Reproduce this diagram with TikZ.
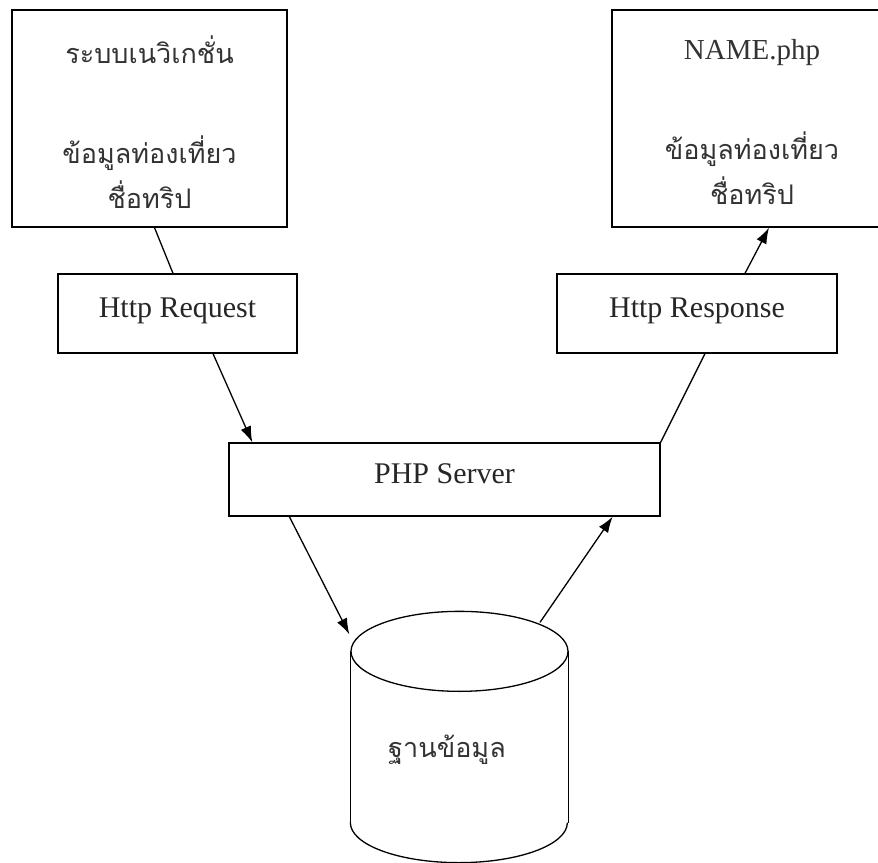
\documentclass[tikz,border=0pt]{standalone}
\usepackage{fontspec}
\setmainfont{Liberation Serif}
\newfontfamily\thaifont[Script=Thai]{Loma}
\usetikzlibrary{arrows.meta}

\begin{document}
\begin{tikzpicture}[x=1pt, y=-1pt, line width=1.3pt,
    box/.style={draw, rectangle, inner sep=0pt},
    pagebox/.style={box, minimum width=#1, minimum height=217pt},
    pagetext/.style={align=center, inner sep=0pt,
        font=\thaifont\fontsize{27}{45}\selectfont, text=black!80},
    tagbox/.style={box, minimum width=#1, minimum height=79pt, text height=20pt,
        text depth=13pt, font=\fontsize{30}{36}\selectfont, text=black!85},
    link/.style={-{Latex[length=16pt,width=11pt]}}]
    \useasboundingbox (0,0) rectangle (878,862);
    \clip (0,0) rectangle (878,862);

    % pages
    \node[pagebox=275pt] (nav) at (149.5,118.5) {};
    \node[pagetext] (navtext) at ([yshift=-4pt]nav.center)
        {ระบบเนวิเกชั่น\\[55pt]ข้อมูลท่องเที่ยว\\ชื่อทริป};
    \node[pagebox=280pt] (result) at (752,118.5) {};
    \node[pagetext] (resulttext) at ([yshift=-4pt]result.center)
        {{\normalfont\fontsize{29}{45}\selectfont NAME.php}\\[55pt]ข้อมูลท่องเที่ยว\\ชื่อทริป};

    % http
    \node[tagbox=239pt] (request) at (177.5,313.5) {Http Request};
    \node[tagbox=280pt] (response) at (697,313.5) {Http Response};

    % server
    \node[box, minimum width=431pt, minimum height=73pt, text height=20pt,
        text depth=13pt, font=\fontsize{30}{36}\selectfont, text=black!85] (php) at (444.5,479.5) {PHP Server};

    % database
    \node[inner sep=0pt, minimum width=217pt, minimum height=170pt] (db) at (459.5,737) {};
    \draw (db.north) ellipse [x radius=108.5pt, y radius=40pt];
    \draw (db.north west) -- (db.south west);
    \draw (db.north east) -- (db.south east);
    \draw (db.south west) arc [start angle=180, end angle=360, x radius=108.5pt, y radius=40pt];
    \node[font=\thaifont\fontsize{27}{30}\selectfont, text=black!80] (dbtext) at (447,750) {ฐานข้อมูล};

    % links
    \draw ([xshift=5pt]nav.south) -- ([xshift=-4.5pt]request.north);
    \draw[link] ([xshift=35.5pt]request.south) -- ([xshift=24pt]php.north west);
    \draw (php.north east) -- ([xshift=8pt]response.south);
    \draw[link] ([xshift=48pt]response.north) -- ([xshift=17pt]result.south);
    \draw[link] ([xshift=61pt]php.south west) -- ([shift={(-1pt,17pt)}]db.north west);
    \draw[link] ([shift={(80.5pt,29pt)}]db.north) -- ([xshift=-48pt]php.south east);
\end{tikzpicture}
\end{document}
